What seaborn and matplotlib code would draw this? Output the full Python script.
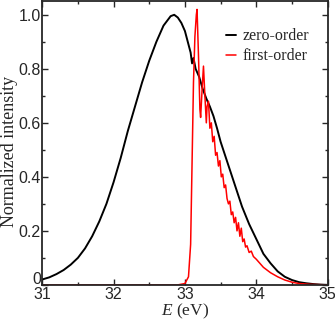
import numpy as np
import pandas as pd
import seaborn as sns
import matplotlib
matplotlib.use('Agg')
import matplotlib.pyplot as plt
import matplotlib.transforms as mtransforms
from matplotlib.ticker import MultipleLocator, FuncFormatter

# zero-order spectrum
e_zero = [31.0, 31.1, 31.2, 31.3, 31.4, 31.5, 31.6, 31.7, 31.8, 31.9,
          32.0, 32.1, 32.2, 32.3, 32.4, 32.5, 32.6, 32.7, 32.8, 32.85,
          32.9, 32.95, 33.0, 33.05, 33.08, 33.1, 33.12, 33.15, 33.2, 33.25,
          33.3, 33.35, 33.4, 33.45, 33.5, 33.6, 33.7, 33.8, 33.9, 34.0,
          34.1, 34.2, 34.3, 34.4, 34.5, 34.6, 34.7, 34.8, 34.9, 35.0]
i_zero = [0.02, 0.028, 0.04, 0.055, 0.075, 0.10, 0.135, 0.18, 0.235, 0.30,
          0.38, 0.47, 0.57, 0.66, 0.75, 0.83, 0.90, 0.96, 0.995, 1.0,
          0.99, 0.97, 0.94, 0.89, 0.86, 0.82, 0.84, 0.80, 0.77, 0.725,
          0.69, 0.66, 0.625, 0.58, 0.53, 0.45, 0.37, 0.29, 0.225, 0.17,
          0.115, 0.08, 0.05, 0.03, 0.018, 0.01, 0.006, 0.003, 0.001, 0.0]

# first-order spectrum
e_first = [31.0, 32.9, 33.0, 33.05, 33.08, 33.1, 33.12, 33.14, 33.16, 33.17,
           33.19, 33.21, 33.22, 33.24, 33.26, 33.28, 33.30, 33.31, 33.33, 33.35,
           33.37, 33.39, 33.41, 33.43, 33.45, 33.47, 33.49, 33.51, 33.53, 33.55,
           33.57, 33.59, 33.61, 33.63, 33.65, 33.67, 33.69, 33.71, 33.73, 33.75,
           33.77, 33.79, 33.81, 33.83, 33.85, 33.87, 33.90, 33.93, 33.96, 34.0,
           34.05, 34.1, 34.15, 34.2, 34.3, 34.4, 34.5, 34.6, 34.75, 35.0]
i_first = [0.0, 0.0, 0.005, 0.03, 0.15, 0.45, 0.75, 0.92, 1.0, 1.02,
           0.85, 0.65, 0.62, 0.72, 0.81, 0.70, 0.60, 0.66, 0.68, 0.58,
           0.60, 0.53, 0.55, 0.48, 0.49, 0.44, 0.46, 0.40, 0.41, 0.36,
           0.37, 0.32, 0.30, 0.31, 0.26, 0.27, 0.23, 0.25, 0.20, 0.23,
           0.18, 0.21, 0.16, 0.17, 0.14, 0.145, 0.12, 0.125, 0.105, 0.095,
           0.08, 0.065, 0.055, 0.045, 0.03, 0.018, 0.01, 0.005, 0.002, 0.0]

sns.set_style('ticks')
plt.rcParams['font.family'] = ['Liberation Sans', 'DejaVu Sans']
plt.rcParams['mathtext.fontset'] = 'custom'
plt.rcParams['mathtext.it'] = 'Liberation Serif:italic'
plt.rcParams['mathtext.rm'] = 'Liberation Serif'

fig, ax = plt.subplots(figsize=(3.35, 3.23), dpi=100)
fig.subplots_adjust(left=0.126, right=0.978, top=0.996, bottom=0.118)

df_zero = pd.DataFrame({'E': e_zero, 'I': i_zero})
df_first = pd.DataFrame({'E': e_first, 'I': i_first})
sns.lineplot(data=df_zero, x='E', y='I', color='black', lw=1.4, label='zero-order', ax=ax)
sns.lineplot(data=df_first, x='E', y='I', color='red', lw=1.1, label='first-order', ax=ax)

ax.set_xlim(31, 35)
ax.set_ylim(0, 1.05)
ax.xaxis.set_major_locator(MultipleLocator(1))
ax.xaxis.set_minor_locator(MultipleLocator(0.5))
ax.yaxis.set_major_locator(MultipleLocator(0.2))
ax.yaxis.set_minor_locator(MultipleLocator(0.1))
ax.yaxis.set_major_formatter(FuncFormatter(lambda v, p: '0' if abs(v) < 1e-9 else f'{v:.1f}'))
ax.tick_params(which='both', direction='in', top=True, right=True, labelsize=11.5)
ax.tick_params(axis='x', pad=1.5)
ax.tick_params(axis='y', pad=1)
ax.tick_params(which='major', length=4, width=1)
ax.tick_params(which='minor', length=2, width=1)
for s in ax.spines.values():
    s.set_linewidth(1.3)

ax.set_xlabel(r'$E$ (eV)', family='Liberation Serif', fontsize=12.5, labelpad=0)
ax.set_ylabel('Normalized intensity', family='Liberation Serif', fontsize=13)
ax.yaxis.set_label_coords(-0.085, 0.47)

# nudge the "0" on the y axis up so it clears the "31" below it
fig.canvas.draw()
for lab in ax.get_yticklabels():
    if lab.get_text() == '0':
        lab.set_verticalalignment('bottom')
        lab.set_transform(lab.get_transform() +
                          mtransforms.ScaledTranslation(0, -1.5 / 72, fig.dpi_scale_trans))

leg = ax.legend(loc='upper right', frameon=False, prop={'family': 'Liberation Serif', 'size': 11.5},
                handlelength=0.6, handletextpad=0.4, labelspacing=0.25,
                bbox_to_anchor=(0.985, 0.955))

plt.savefig('out.png', dpi=100)
